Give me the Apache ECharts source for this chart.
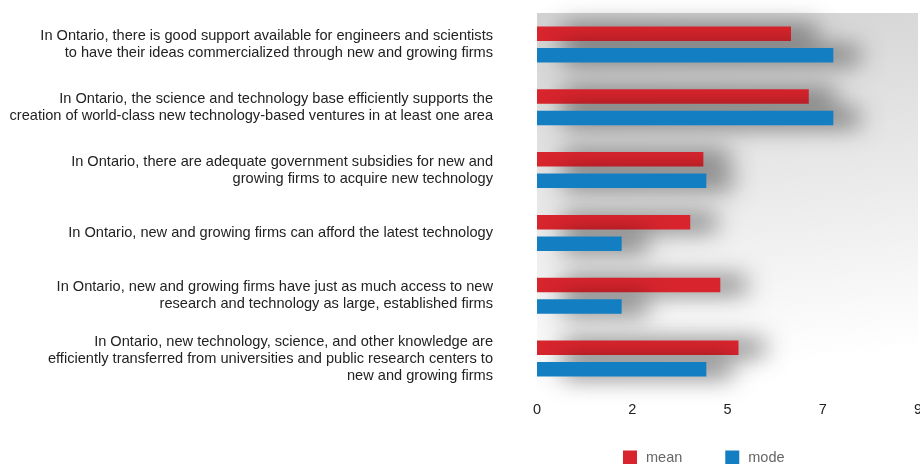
<!DOCTYPE html>
<html>
<head>
<meta charset="utf-8">
<script src="https://cdn.jsdelivr.net/npm/echarts@6/dist/echarts.min.js"></script>
<style>
  html, body { margin: 0; padding: 0; background: #fff; }
  #chart { width: 920px; height: 464px; }
</style>
</head>
<body>
<div id="chart"></div>
<script>
var categories = [
    'In Ontario, there is good support available for engineers and scientists\nto have their ideas commercialized through new and growing firms',
    'In Ontario, the science and technology base efficiently supports the\ncreation of world-class new technology-based ventures in at least one area',
    'In Ontario, there are adequate government subsidies for new and\ngrowing firms to acquire new technology',
    'In Ontario, new and growing firms can afford the latest technology',
    'In Ontario, new and growing firms have just as much access to new\nresearch and technology as large, established firms',
    'In Ontario, new technology, science, and other knowledge are\nefficiently transferred from universities and public research centers to\nnew and growing firms'
];
var meanValues = [6.0, 6.42, 3.93, 3.62, 4.33, 4.76];
var modeValues = [7, 7, 4, 2, 2, 4];

var shadow = {
    shadowBlur: 24,
    shadowOffsetX: 26,
    shadowOffsetY: 0,
    shadowColor: 'rgba(0,0,0,0.6)'
};

var chart = echarts.init(document.getElementById('chart'));
chart.setOption({
    animation: false,
    textStyle: { fontFamily: '"Liberation Sans", Arial, sans-serif' },
    grid: {
        left: 537,
        top: 13,
        right: 2,
        bottom: 74,
        outerBoundsMode: 'none',
        containLabel: false,
        show: true,
        borderWidth: 0,
        backgroundColor: new echarts.graphic.LinearGradient(0, 0, 0.12, 1, [
            { offset: 0, color: '#d2d2d2' },
            { offset: 1, color: '#ffffff' }
        ])
    },
    legend: {
        data: ['mean', 'mode'],
        left: 618,
        top: 445,
        itemWidth: 14,
        itemHeight: 14,
        itemGap: 43,
        icon: 'rect',
        textStyle: { color: '#666', fontSize: 14.5, padding: [0, 0, 0, 4] }
    },
    xAxis: {
        type: 'value',
        min: 0,
        max: 9,
        interval: 2.25,
        axisLine: { show: false },
        axisTick: { show: false },
        splitLine: { show: false },
        axisLabel: {
            color: '#222',
            fontSize: 14.5,
            margin: 12,
            formatter: function (v) { return Math.round(v); }
        }
    },
    yAxis: {
        type: 'category',
        data: categories,
        inverse: true,
        axisLine: { show: false },
        axisTick: { show: false },
        axisLabel: {
            color: '#222',
            fontSize: 14.6,
            lineHeight: 17,
            margin: 44,
            align: 'right'
        }
    },
    series: [{
        name: 'mean',
        type: 'bar',
        data: meanValues,
        barWidth: 14.5,
        barGap: '48%',
        itemStyle: Object.assign({ color: '#d8242d' }, shadow)
    }, {
        name: 'mode',
        type: 'bar',
        data: modeValues,
        barWidth: 14.5,
        barGap: '48%',
        itemStyle: Object.assign({ color: '#137ec2' }, shadow)
    }]
});
</script>
</body>
</html>
